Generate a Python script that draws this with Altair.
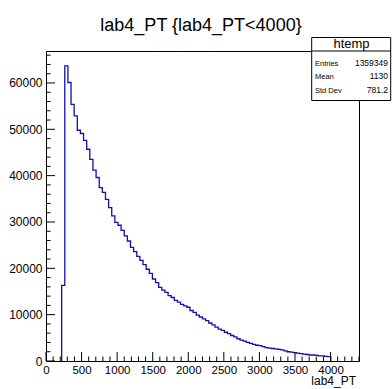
import altair as alt
import pandas as pd
import numpy as np

# ---------------- data ----------------
title_text = "lab4_PT {lab4_PT<4000}"
x_title = "lab4_PT"
hist_name = "htemp"
stats_labels = ["Entries", "Mean", "Std Dev"]
stats_values = ["1359349", "1130", "781.2"]

bin_start = 220
bin_width = 44
counts = [
    16300, 63700, 60100, 55400, 52900, 49800, 49100, 47600, 45700, 43500,
    41200, 39600, 37400, 36400, 34900, 33100, 31300, 29900, 29300, 28200,
    27000, 25900, 24500, 23600, 22600, 21700, 20800, 19800, 18900, 17700,
    16900, 15900, 15300, 14800, 14100, 13700, 13100, 12700, 12200, 11900,
    11600, 10900, 10500, 9900, 9500, 9100, 8700, 8200, 7800, 7300,
    6900, 6600, 6200, 5900, 5500, 5200, 4800, 4500, 4300, 4000,
    3800, 3600, 3400, 3300, 3100, 2900, 2800, 2700, 2600, 2500,
    2400, 2200, 2000, 1900, 1800, 1700, 1600, 1500, 1400, 1300,
    1300, 1200, 1100, 1100, 1000, 950,
]
x_range = [0, 4400]
y_range = [0, 66900]
x_tick_labels = [0, 500, 1000, 1500, 2000, 2500, 3000, 3500, 4000]
y_tick_labels = [0, 10000, 20000, 30000, 40000, 50000, 60000]
x_minor_step = 100
y_minor_step = 2000

# ---------------- layout ----------------
W, H = 313, 310
FONT = "Liberation Sans"

edges = bin_start + bin_width * np.arange(len(counts) + 1)
xs = [edges[0]] + list(edges[:-1]) + [edges[-1]]
ys = [0] + counts + [0]
hist = pd.DataFrame({"x": xs, "y": ys, "idx": range(len(xs))})

xscale = alt.Scale(domain=x_range, nice=False, zero=False)
yscale = alt.Scale(domain=y_range, nice=False)

x_axis = alt.Axis(values=x_tick_labels, ticks=False, domain=False, grid=False,
                  title=None, labelFontSize=11.5, labelFont=FONT,
                  labelColor="black", labelPadding=3, labelOverlap=False,
                  labelFlush=False, format="d")
y_axis = alt.Axis(values=y_tick_labels, ticks=False, domain=False, grid=False,
                  title=None, labelFontSize=12, labelFont=FONT,
                  labelColor="black", labelPadding=4, labelOverlap=False,
                  labelFlush=False, format="d")

one_row = pd.DataFrame({"k": [0]})

line = alt.Chart(hist).mark_line(interpolate="step-after", color="#1010b0",
                                 strokeWidth=1.3).encode(
    x=alt.X("x:Q", scale=xscale, axis=x_axis),
    y=alt.Y("y:Q", scale=yscale, axis=y_axis),
    order=alt.Order("idx:Q"),
)

xt_all = np.arange(x_range[0], x_range[1] + 1, x_minor_step)
xt_major = pd.DataFrame({"t": [t for t in xt_all if t % 500 == 0]})
xt_minor = pd.DataFrame({"t": [t for t in xt_all if t % 500 != 0]})
yt_all = np.arange(0, y_range[1], y_minor_step)
yt_major = pd.DataFrame({"t": [t for t in yt_all if t % 10000 == 0]})
yt_minor = pd.DataFrame({"t": [t for t in yt_all if t % 10000 != 0]})

def xticks(df, L):
    return alt.Chart(df).mark_rule(color="black", strokeWidth=1).encode(
        x=alt.X("t:Q", scale=xscale, axis=x_axis),
        y=alt.value(H), y2=alt.value(H - L))

def yticks(df, L):
    return alt.Chart(df).mark_rule(color="black", strokeWidth=1).encode(
        y=alt.Y("t:Q", scale=yscale, axis=y_axis),
        x=alt.value(0), x2=alt.value(L))

box = alt.Chart(one_row).mark_rect(fill="white", stroke="black", strokeWidth=1).encode(
    x=alt.value(265.7), x2=alt.value(344.7), y=alt.value(-13.5), y2=alt.value(49.5))
box_line = alt.Chart(one_row).mark_rule(color="black", strokeWidth=1).encode(
    x=alt.value(265.7), x2=alt.value(344.7), y=alt.value(0))

def txt(s, x, y, size, align="left"):
    return alt.Chart(one_row).mark_text(font=FONT, fontSize=size, align=align,
                                        baseline="alphabetic", color="black").encode(
        x=alt.value(x), y=alt.value(y), text=alt.value(s))

layers = [line, xticks(xt_major, 9), xticks(xt_minor, 4.5),
          yticks(yt_major, 9), yticks(yt_minor, 4.5), box, box_line,
          txt(title_text, 155, -20.3, 18, "center"),
          txt(hist_name, 305.5, -3.3, 13, "center"),
          txt(x_title, 310, 334, 12, "right")]
row_y = [15, 28, 42]
for lab, val, ry in zip(stats_labels, stats_values, row_y):
    layers.append(txt(lab, 269, ry, 7.5, "left"))
    layers.append(txt(val, 342, ry, 8.5, "right"))

chart = alt.layer(*layers).properties(
    width=W, height=H,
    autosize=alt.AutoSizeParams(type="none"),
    padding={"left": 46, "top": 51, "right": 33, "bottom": 28},
    background="white",
).configure_view(stroke="black", strokeWidth=1)

chart.save("out.html", embed_options={"renderer": "svg", "actions": False})
